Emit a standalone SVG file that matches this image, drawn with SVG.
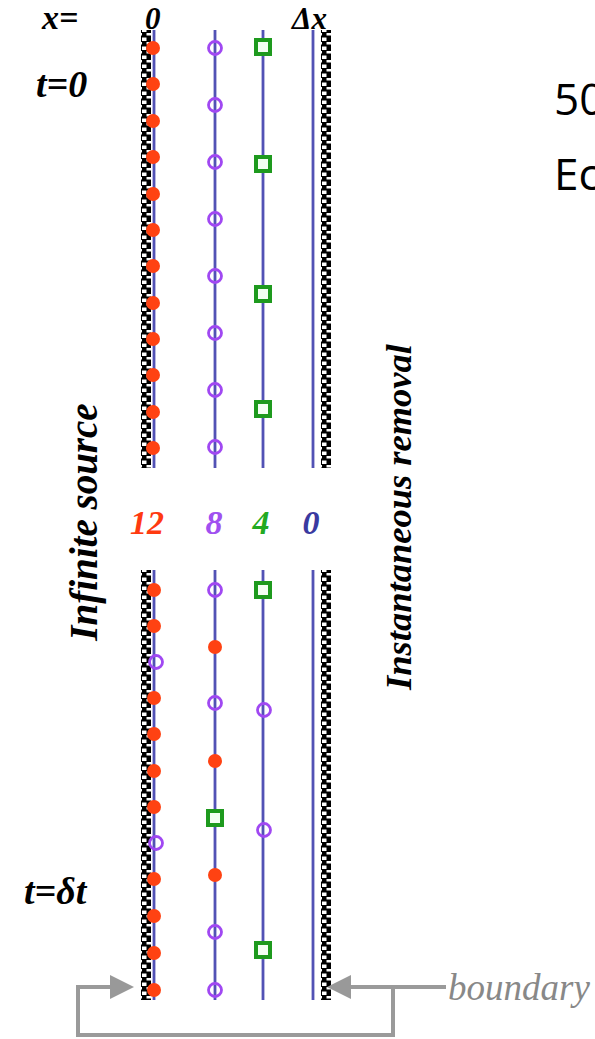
<svg xmlns="http://www.w3.org/2000/svg" width="595" height="1039" viewBox="0 0 595 1039">
<defs>
<pattern id="hatch" x="0" y="0" width="10" height="9" patternUnits="userSpaceOnUse">
<rect x="0" y="0" width="10" height="9" fill="#000"/>
<rect x="2" y="1.5" width="4.5" height="3.5" fill="#fff"/>
<rect x="6.5" y="6" width="3.5" height="2.5" fill="#fff"/>
<rect x="0" y="6" width="2" height="2.5" fill="#fff"/>
</pattern>
<marker id="arr" markerWidth="6" markerHeight="6" refX="5" refY="3" orient="auto" markerUnits="strokeWidth">
<path d="M0,0 L6,3 L0,6 Z" fill="#999"/>
</marker>
<g id="r"><circle r="7" fill="#ff4212"/></g>
<g id="p"><circle r="6.5" fill="none" stroke="#a048f2" stroke-width="2.8"/></g>
<g id="s"><rect x="-7" y="-7" width="14" height="14" fill="#f4fff4" stroke="#1e9a1e" stroke-width="4"/></g>
</defs>
<style>
.ln{stroke:#5252b5;stroke-width:2.8;fill:none}
.lbl{font-family:"Liberation Serif",serif;font-weight:bold;font-style:italic}
.bnd{stroke:#9a9a9a;stroke-width:4;fill:none}
.side{font-family:"Open Sans","Liberation Sans",sans-serif;font-size:44px;fill:#000}
</style>
<rect width="595" height="1039" fill="#fff"/>

<g id="labels">
<text class="lbl" x="42" y="29" font-size="34">x=</text>
<text class="lbl" x="145" y="29" font-size="31">0</text>
<text class="lbl" x="292" y="29" font-size="31">Δx</text>
<text class="lbl" x="36" y="97" font-size="38">t=0</text>
<text class="lbl" x="24" y="904" font-size="38">t=δt</text>
<text class="lbl" x="147" y="534" font-size="34" fill="#ff3a10" text-anchor="middle">12</text>
<text class="lbl" x="214" y="534" font-size="34" fill="#a050f0" text-anchor="middle">8</text>
<text class="lbl" x="261" y="534" font-size="34" fill="#22aa22" text-anchor="middle">4</text>
<text class="lbl" x="311" y="534" font-size="34" fill="#3a3aa0" text-anchor="middle">0</text>
<text class="lbl" font-size="39" text-anchor="middle" transform="translate(97,522) rotate(-90)">Infinite source</text>
<text class="lbl" font-size="36.5" text-anchor="middle" transform="translate(411,517) rotate(-90)">Instantaneous removal</text>
<text x="448" y="1000" font-family="Liberation Serif,serif" font-style="italic" font-size="37" fill="#888">boundary</text>
<text class="side" x="554" y="115">50</text>
<text class="side" x="554" y="190">Ec</text>
</g>

<g id="top-section">
<rect x="141" y="30" width="10" height="438" fill="url(#hatch)"/>
<rect x="321" y="30" width="10" height="438" fill="url(#hatch)"/>
<line class="ln" x1="154" y1="30" x2="154" y2="468"/>
<line class="ln" x1="215" y1="30" x2="215" y2="468"/>
<line class="ln" x1="263" y1="30" x2="263" y2="468"/>
<line class="ln" x1="313" y1="30" x2="313" y2="468"/>
<use href="#r" x="153" y="48"/><use href="#r" x="153" y="84"/><use href="#r" x="153" y="121"/><use href="#r" x="153" y="157"/>
<use href="#r" x="153" y="194"/><use href="#r" x="153" y="230"/><use href="#r" x="153" y="266"/><use href="#r" x="153" y="303"/>
<use href="#r" x="153" y="339"/><use href="#r" x="153" y="375"/><use href="#r" x="153" y="412"/><use href="#r" x="153" y="448"/>
<use href="#p" x="215" y="48"/><use href="#p" x="215" y="105"/><use href="#p" x="215" y="162"/><use href="#p" x="215" y="219"/>
<use href="#p" x="215" y="276"/><use href="#p" x="215" y="333"/><use href="#p" x="215" y="390"/><use href="#p" x="215" y="447"/>
<use href="#s" x="263" y="47"/><use href="#s" x="263" y="164"/><use href="#s" x="263" y="294"/><use href="#s" x="263" y="409"/>
</g>

<g id="bottom-section">
<rect x="141" y="570" width="10" height="430" fill="url(#hatch)"/>
<rect x="321" y="570" width="10" height="430" fill="url(#hatch)"/>
<line class="ln" x1="154" y1="570" x2="154" y2="1000"/>
<line class="ln" x1="215" y1="570" x2="215" y2="1000"/>
<line class="ln" x1="263" y1="570" x2="263" y2="1000"/>
<line class="ln" x1="313" y1="570" x2="313" y2="1000"/>
<use href="#r" x="154" y="590"/><use href="#r" x="154" y="626"/><use href="#p" x="156" y="662"/><use href="#r" x="154" y="698"/>
<use href="#r" x="154" y="734"/><use href="#r" x="154" y="771"/><use href="#r" x="154" y="807"/><use href="#p" x="156" y="843"/>
<use href="#r" x="154" y="879"/><use href="#r" x="154" y="916"/><use href="#r" x="154" y="953"/><use href="#r" x="154" y="990"/>
<use href="#p" x="215" y="590"/><use href="#r" x="215" y="647"/><use href="#p" x="215" y="703"/><use href="#r" x="215" y="761"/>
<use href="#s" x="215" y="818"/><use href="#r" x="215" y="875"/><use href="#p" x="215" y="932"/><use href="#p" x="215" y="990"/>
<use href="#s" x="263" y="590"/><use href="#p" x="264" y="710"/><use href="#p" x="264" y="830"/><use href="#s" x="263" y="950"/>
</g>

<g id="connectors">
<path class="bnd" d="M393,987 L393,1035 L78,1035 L78,987 L130,987" marker-end="url(#arr)"/>
<path class="bnd" d="M446,987 L331,987" marker-end="url(#arr)"/>
</g>
</svg>
